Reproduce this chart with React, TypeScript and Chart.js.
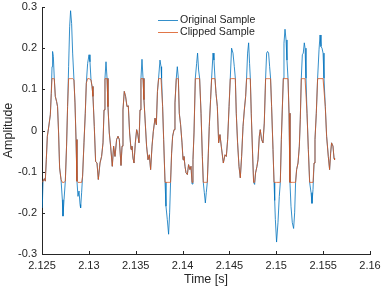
import React, { useEffect, useRef } from 'react';
import { Chart, registerables } from 'chart.js';

Chart.register(...registerables);

// Time axis (seconds) and original sample amplitudes
const TIME_S = [
  2.12503, 2.12511, 2.12525, 2.12535, 2.12546, 2.12557, 2.1257, 2.12589, 2.12599, 2.12607,
  2.12613, 2.12621, 2.12631, 2.12642, 2.12656, 2.12666, 2.12677, 2.12688, 2.12703, 2.12717,
  2.12724, 2.12735, 2.12749, 2.12762, 2.12773, 2.12784, 2.12795, 2.12805, 2.12816, 2.12827,
  2.12841, 2.12852, 2.12863, 2.12873, 2.12884, 2.12895, 2.12906, 2.12912, 2.12923, 2.12933,
  2.12948, 2.12962, 2.12973, 2.12987, 2.13002, 2.13012, 2.13023, 2.13034, 2.13044, 2.13058,
  2.13072, 2.13087, 2.13101, 2.13119, 2.13136, 2.13151, 2.13162, 2.13172, 2.13183, 2.13194,
  2.13204, 2.13218, 2.13232, 2.1325, 2.13264, 2.13279, 2.13296, 2.13311, 2.13325, 2.13343,
  2.13354, 2.13364, 2.13378, 2.13392, 2.13407, 2.13421, 2.13435, 2.1345, 2.1346, 2.13471,
  2.13482, 2.13496, 2.1351, 2.1352, 2.13535, 2.13546, 2.13556, 2.13567, 2.13578, 2.13588,
  2.13602, 2.13616, 2.13631, 2.13645, 2.13659, 2.13674, 2.13688, 2.13706, 2.1372, 2.13732,
  2.13744, 2.13759, 2.1377, 2.13776, 2.13787, 2.13798, 2.13813, 2.13823, 2.13837, 2.13851,
  2.13862, 2.13872, 2.13883, 2.13894, 2.13909, 2.13919, 2.13933, 2.13944, 2.13955, 2.13965,
  2.13979, 2.13994, 2.14005, 2.14015, 2.14026, 2.14037, 2.14051, 2.14064, 2.14079, 2.1409,
  2.14101, 2.14111, 2.14122, 2.14136, 2.1415, 2.1416, 2.14171, 2.14182, 2.14197, 2.14211,
  2.14221, 2.14232, 2.14243, 2.14253, 2.14264, 2.14275, 2.14285, 2.14299, 2.1431, 2.14325,
  2.14335, 2.14346, 2.14357, 2.14371, 2.14385, 2.14399, 2.14413, 2.14435, 2.14453, 2.14467,
  2.14481, 2.14496, 2.14509, 2.14523, 2.14538, 2.14552, 2.14563, 2.14573, 2.14587, 2.14602,
  2.14616, 2.1463, 2.14645, 2.14659, 2.14673, 2.14683, 2.14694, 2.14705, 2.14715, 2.14723,
  2.14733, 2.14747, 2.14758, 2.14769, 2.14779, 2.14794, 2.14805, 2.14819, 2.14829, 2.14843,
  2.14858, 2.14872, 2.14886, 2.14897, 2.14907, 2.14918, 2.14929, 2.14939, 2.1495, 2.14965,
  2.14976, 2.14983, 2.1499, 2.15003, 2.15018, 2.15032, 2.15043, 2.15054, 2.15064, 2.15075,
  2.15082, 2.15093, 2.15104, 2.15114, 2.15125, 2.15136, 2.15146, 2.15157, 2.15171, 2.15185,
  2.15196, 2.15206, 2.15217, 2.15232, 2.15246, 2.15256, 2.15267, 2.15278, 2.15288, 2.15299,
  2.15307, 2.15317, 2.15328, 2.15342, 2.15356, 2.15371, 2.15381, 2.15392, 2.15403, 2.15413,
  2.15427, 2.15441, 2.15456, 2.15467, 2.15477, 2.15488, 2.15499, 2.15509, 2.15523, 2.15537,
  2.15555, 2.15569, 2.1558, 2.1559, 2.15605, 2.15616, 2.15622,
];

const ORIGINAL = [
  -0.188, -0.123, -0.117, -0.123, -0.071, -0.014, 0.006, 0.038, 0.09, 0.155,
  0.192, 0.18, 0.127, 0.083, 0.07, 0.058, -0.006, -0.091, -0.119, -0.168,
  -0.208, -0.168, -0.123, -0.038, 0.058, 0.155, 0.252, 0.291, 0.26, 0.188,
  0.123, 0.067, -0.022, -0.123, -0.16, -0.147, -0.18, -0.188, -0.15, -0.111,
  -0.03, 0.042, 0.115, 0.163, 0.184, 0.167, 0.123, 0.107, 0.083, 0.01,
  -0.075, -0.079, -0.119, -0.079, -0.063, -0.03, 0.05, 0.127, 0.167, 0.127,
  0.058, -0.006, -0.038, -0.087, -0.038, -0.063, -0.022, -0.014, -0.022, -0.085,
  -0.038, 0.05, 0.095, 0.083, 0.058, 0.06, -0.006, -0.046, -0.038, -0.067,
  -0.079, -0.03, 0.002, -0.006, -0.03, 0.05, 0.127, 0.173, 0.127, 0.075,
  0.018, -0.038, -0.071, -0.059, -0.095, -0.038, -0.002, 0.03, 0.014, 0.095,
  0.127, 0.171, 0.155, 0.127, 0.058, -0.022, -0.126, -0.184, -0.216, -0.252,
  -0.2, -0.126, -0.055, -0.014, 0.002, 0.067, 0.127, 0.155, 0.127, 0.042,
  0.014, -0.03, -0.071, -0.063, -0.087, -0.103, -0.107, -0.083, -0.095, -0.087,
  -0.13, -0.071, -0.006, 0.127, 0.163, 0.188, 0.147, 0.127, 0.042, -0.063,
  -0.126, -0.151, -0.176, -0.151, -0.126, -0.055, 0.01, 0.075, 0.127, 0.188,
  0.171, 0.127, 0.09, 0.058, -0.03, -0.01, -0.038, -0.079, -0.059, -0.063,
  -0.022, 0.058, 0.127, 0.2, 0.188, 0.155, 0.127, 0.042, -0.03, -0.087,
  -0.115, -0.063, 0.01, 0.05, 0.083, 0.127, 0.188, 0.213, 0.163, 0.127,
  0.042, -0.055, -0.126, -0.131, -0.103, -0.087, -0.071, -0.014, 0.002, -0.022,
  -0.03, 0.018, 0.127, 0.188, 0.192, 0.188, 0.155, 0.127, 0.058, -0.046,
  -0.126, -0.17, -0.216, -0.271, -0.224, -0.16, -0.126, -0.022, 0.05, 0.127,
  0.212, 0.246, 0.22, 0.171, 0.127, 0.042, -0.126, -0.184, -0.224, -0.238,
  -0.2, -0.126, -0.095, -0.079, -0.038, 0.026, 0.127, 0.184, 0.188, 0.213,
  0.2, 0.127, 0.042, -0.046, -0.126, -0.151, -0.177, -0.143, -0.079, -0.022,
  0.042, 0.127, 0.196, 0.232, 0.204, 0.2, 0.188, 0.127, 0.058, -0.014,
  -0.063, -0.095, -0.055, -0.03, -0.038, -0.067, -0.071,
];

// Clipping threshold applied to the original sample
const CLIP_LEVEL = 0.126;

const X_TICKS = [2.125, 2.13, 2.135, 2.14, 2.145, 2.15, 2.155, 2.16];
const Y_TICKS = [-0.3, -0.2, -0.1, 0, 0.1, 0.2, 0.3];
const SERIES_LABELS = ['Original Sample', 'Clipped Sample'];
const X_TITLE = 'Time [s]';
const Y_TITLE = 'Amplitude';

const BLUE = '#0072BD';
const ORANGE = '#D95319';
const AXIS_COLOR = '#262626';
const FONT = '"Liberation Sans", Arial, Helvetica, sans-serif';

const fmt = (v: number) => String(Number(v.toFixed(3)));

const matlabPlugin = {
  id: 'matlabDecor',
  afterDraw(chart: any) {
    const { ctx, chartArea, scales } = chart;
    ctx.save();
    ctx.strokeStyle = AXIS_COLOR;
    ctx.lineWidth = 1;
    ctx.beginPath();
    for (const v of X_TICKS) {
      const px = Math.round(scales.x.getPixelForValue(v)) + 0.5;
      ctx.moveTo(px, chartArea.bottom);
      ctx.lineTo(px, chartArea.bottom - 3);
    }
    for (const v of Y_TICKS) {
      const py = Math.round(scales.y.getPixelForValue(v)) + 0.5;
      ctx.moveTo(chartArea.left, py);
      ctx.lineTo(chartArea.left + 3, py);
    }
    ctx.stroke();

    // legend, placed relative to the plot area
    const colors = [BLUE, ORANGE];
    const lx = chartArea.left + 116;
    const rows = [chartArea.top + 13, chartArea.top + 25];
    ctx.font = `10.6px ${FONT}`;
    ctx.textBaseline = 'middle';
    ctx.textAlign = 'left';
    SERIES_LABELS.forEach((label, i) => {
      ctx.strokeStyle = colors[i];
      ctx.lineWidth = 0.8;
      ctx.beginPath();
      ctx.moveTo(lx, rows[i] + 0.5);
      ctx.lineTo(lx + 20, rows[i] + 0.5);
      ctx.stroke();
      ctx.fillStyle = AXIS_COLOR;
      ctx.fillText(label, lx + 22, rows[i] + 0.5);
    });
    ctx.restore();
  },
};

export default function App() {
  const canvasRef = useRef<HTMLCanvasElement>(null);

  useEffect(() => {
    document.body.style.margin = '0';
    const canvas = canvasRef.current;
    if (!canvas) return;
    const original = TIME_S.map((t, i) => ({ x: t, y: ORIGINAL[i] }));
    const clipped = TIME_S.map((t, i) => ({
      x: t,
      y: Math.max(-CLIP_LEVEL, Math.min(CLIP_LEVEL, ORIGINAL[i])),
    }));

    const chart = new Chart(canvas, {
      type: 'line',
      data: {
        datasets: [
          {
            label: SERIES_LABELS[0],
            data: original,
            borderColor: BLUE,
            borderWidth: 0.8,
            pointRadius: 0,
            tension: 0,
            order: 2,
          },
          {
            label: SERIES_LABELS[1],
            data: clipped,
            borderColor: ORANGE,
            borderWidth: 0.8,
            pointRadius: 0,
            tension: 0,
            order: 1,
          },
        ],
      },
      options: {
        animation: false,
        responsive: false,
        devicePixelRatio: 1,
        layout: { padding: { top: 7, right: 12, left: 0, bottom: 0 } },
        plugins: { legend: { display: false }, tooltip: { enabled: false } },
        scales: {
          x: {
            type: 'linear',
            min: 2.125,
            max: 2.16,
            grid: { display: false, drawTicks: false },
            border: { display: true, color: AXIS_COLOR, width: 1 },
            afterBuildTicks: (s: any) => {
              s.ticks = X_TICKS.map((v) => ({ value: v }));
            },
            afterFit: (s: any) => {
              s.height = 33;
              s.paddingLeft = 0;
              s.paddingRight = 0;
            },
            ticks: {
              autoSkip: false,
              maxRotation: 0,
              padding: 5,
              color: AXIS_COLOR,
              font: { family: FONT, size: 11 },
              callback: (v: any) => fmt(Number(v)),
            },
            title: {
              display: true,
              text: X_TITLE,
              color: AXIS_COLOR,
              font: { family: FONT, size: 12.5 },
              padding: { top: 0, bottom: 0 },
            },
          },
          y: {
            type: 'linear',
            min: -0.3,
            max: 0.3,
            grid: { display: false, drawTicks: false },
            border: { display: true, color: AXIS_COLOR, width: 1 },
            afterBuildTicks: (s: any) => {
              s.ticks = Y_TICKS.map((v) => ({ value: v }));
            },
            afterFit: (s: any) => {
              s.width = 42;
              s.paddingTop = 0;
              s.paddingBottom = 0;
            },
            ticks: {
              autoSkip: false,
              padding: 5,
              color: AXIS_COLOR,
              font: { family: FONT, size: 11 },
              callback: (v: any) => fmt(Number(v)),
            },
            title: {
              display: true,
              text: Y_TITLE,
              color: AXIS_COLOR,
              font: { family: FONT, size: 12.5 },
              padding: { top: 1, bottom: 0 },
            },
          },
        },
      },
      plugins: [matlabPlugin],
    });
    return () => chart.destroy();
  }, []);

  return (
    <div style={{ width: 382, height: 287 }}>
      <canvas ref={canvasRef} width={382} height={287} style={{ display: 'block' }} />
    </div>
  );
}
